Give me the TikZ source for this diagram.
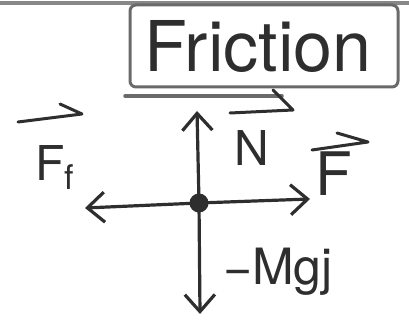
\documentclass[tikz,border=0pt]{standalone}
\usepackage{fontspec}
\setmainfont{TeX Gyre Heros}
\usetikzlibrary{arrows.meta}
\definecolor{ink}{HTML}{2E2E2E}
\definecolor{pencil}{HTML}{6A6A6A}
\tikzset{
  force/.style={draw=ink, line width=3.2pt, line cap=round,
    -{Straight Barb[length=17pt,width=30pt,line width=3.2pt]}},
  vecbar/.style={draw=ink, line width=3pt, line cap=round, line join=round},
  lbl/.style={text=ink, inner sep=0pt, font=\fontsize{48}{48}\selectfont},
  framebox/.style={draw=pencil, line width=3pt, rounded corners=6pt,
    minimum width=268pt, minimum height=82pt, inner sep=0pt},
  surface/.style={draw=pencil, line width=3.5pt, line cap=round}
}
\begin{document}
\begin{tikzpicture}[x=1pt,y=-1pt]
\useasboundingbox (0,0) rectangle (409,328);
% top edge
\coordinate (tl) at (0,3);
\coordinate (tr) at (409,3);
\draw[surface, draw=pencil!80] (tl) -- (tr);
% box
\node[framebox] (box) at (264,46) {};
\node[text=ink, inner sep=0pt, font=\fontsize{70}{70}\selectfont] (fric) at (258,47) {Friction};
% surface line under box
\coordinate (s1) at (125,96);
\coordinate (s2) at (282,96);
\draw[surface] (s1) -- (s2);
% central dot
\node[circle, fill=ink, minimum size=19pt, inner sep=0pt] (dot) at (199,203) {};
\coordinate (up) at (197,111);
\coordinate (rt) at (310,199);
\coordinate (lf) at (85,208);
\coordinate (dn) at (200,314);
\draw[force] (dot.center) -- (up);
\draw[force] (dot.center) -- (rt);
\draw[force] (dot.center) -- (lf);
\draw[force] (dot.center) -- (dn);
% labels
\node[lbl] (Ff) at (55,168) {F\raisebox{-9pt}{\fontsize{34}{34}\selectfont f}};
\coordinate (ffa) at (18,122);
\coordinate (ffb) at (82,114);
\coordinate (ffc) at (60,104);
\draw[vecbar] (ffa) -- (ffb) -- (ffc);
\node[lbl] (N) at (252,148) {N};
\coordinate (na) at (230,113);
\coordinate (nb) at (293,110);
\coordinate (nc) at (273,90);
\draw[vecbar] (na) -- (nb) -- (nc);
\node[lbl, font=\fontsize{60}{60}\selectfont] (F) at (334,174) {F};
\coordinate (fa) at (312,150);
\coordinate (fb) at (368,142);
\coordinate (fc) at (337,133);
\draw[vecbar] (fa) -- (fb) -- (fc);
\node[lbl, font=\fontsize{50}{50}\selectfont] (mg) at (278,272) {−Mgj};
\end{tikzpicture}
\end{document}
